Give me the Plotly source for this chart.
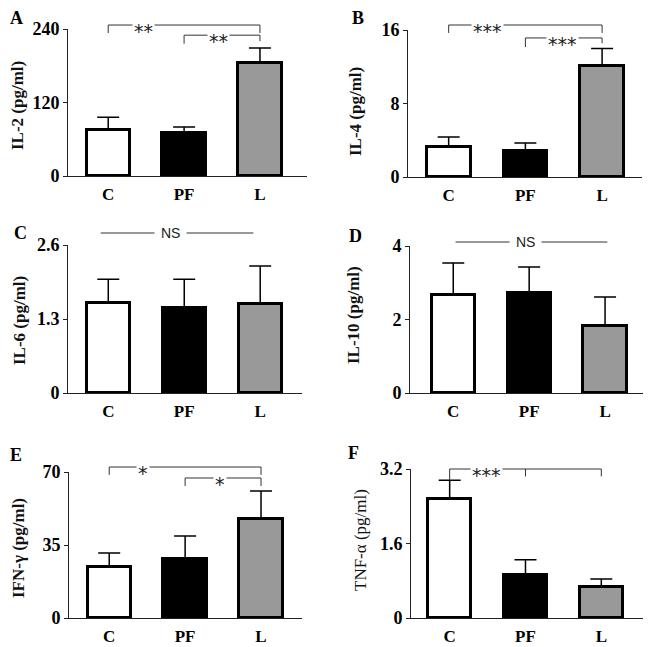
import plotly.graph_objects as go

# ---------------- data ----------------
groups = ["C", "PF", "L"]

il2_mean = [75, 70, 184]
il2_err = [21, 10, 25]
il4_mean = [3.27, 2.83, 12.1]
il4_err = [1.08, 0.87, 1.9]
il6_mean = [1.58, 1.49, 1.57]
il6_err = [0.42, 0.51, 0.66]
il10_mean = [2.67, 2.72, 1.82]
il10_err = [0.87, 0.71, 0.79]
ifng_mean = [24.5, 28.3, 47.5]
ifng_err = [6.7, 11.0, 13.4]
tnfa_mean = [2.56, 0.92, 0.67]
tnfa_err = [0.40, 0.33, 0.17]

tick_a = [0, 120, 240]
tick_b = [0, 8, 16]
tick_c = [0, 1.3, 2.6]
tick_d = [0, 2, 4]
tick_e = [0, 35, 70]
tick_f = [0, 1.6, 3.2]

titles = ["IL-2 (pg/ml)", "IL-4 (pg/ml)", "IL-6 (pg/ml)",
          "IL-10 (pg/ml)", "IFN-\u03b3 (pg/ml)", "TNF-\u03b1 (pg/ml)"]
letters = ["A", "B", "C", "D", "E", "F"]
sig_a = ["**", "**"]
sig_b = ["***", "***"]
sig_e = ["*", "*"]
sig_f = ["***"]
ns_label = "NS"

# ---------------- layout (pixel geometry) ----------------
PAGE_W, PAGE_H = 651, 647
OFF = 8  # default page body margin
W, H = PAGE_W - OFF, PAGE_H - OFF
bar_colors = ["#ffffff", "#000000", "#999999"]

panels = [
    dict(mean=il2_mean, err=il2_err, ticks=tick_a, xpx=(68, 307), ypx=(176, 29),
         xr=(-0.53, 2.62), tpos=(17, 106), lpos=(16, 18)),
    dict(mean=il4_mean, err=il4_err, ticks=tick_b, xpx=(408, 642), ypx=(177, 30),
         xr=(-0.53, 2.52), tpos=(355, 112), lpos=(358, 18)),
    dict(mean=il6_mean, err=il6_err, ticks=tick_c, xpx=(68, 302), ypx=(393, 245),
         xr=(-0.53, 2.55), tpos=(19, 321), lpos=(20, 233)),
    dict(mean=il10_mean, err=il10_err, ticks=tick_d, xpx=(410, 643), ypx=(393, 246),
         xr=(-0.57, 2.5), tpos=(353, 315), lpos=(355, 236)),
    dict(mean=ifng_mean, err=ifng_err, ticks=tick_e, xpx=(69, 302), ypx=(618, 472),
         xr=(-0.53, 2.54), tpos=(18, 548), lpos=(16, 455)),
    dict(mean=tnfa_mean, err=tnfa_err, ticks=tick_f, xpx=(411, 643), ypx=(618, 469),
         xr=(-0.51, 2.55), tpos=(360, 540), lpos=(353, 453)),
]

def px_x(v):
    return (v - OFF) / W

def px_y(v):
    return 1 - (v - OFF) / H

SERIF = "Liberation Serif"
fig = go.Figure()
shapes = []
annotations = []

def fmt(v):
    return str(int(v)) if float(v).is_integer() else str(v)

for i, p in enumerate(panels):
    n = "" if i == 0 else str(i + 1)
    xa, ya = "x" + n, "y" + n
    fig.add_trace(go.Bar(
        x=groups, y=p["mean"], xaxis=xa, yaxis=ya, width=0.57,
        marker=dict(color=bar_colors, line=dict(color="black", width=3)),
        error_y=dict(type="data", array=p["err"], arrayminus=[0, 0, 0], symmetric=False,
                     color="black", thickness=1.5, width=11),
        showlegend=False,
    ))
    dom_x = [px_x(p["xpx"][0]), px_x(p["xpx"][1])]
    dom_y = [px_y(p["ypx"][0]), px_y(p["ypx"][1])]
    fig.update_layout(**{
        "xaxis" + n: dict(domain=dom_x, anchor=ya, range=list(p["xr"]), showline=True,
                          linecolor="#222", linewidth=1, ticks="", showgrid=False,
                          zeroline=False, automargin=False, ticklabelstandoff=3,
                          tickfont=dict(family=SERIF, size=17, color="black", weight="bold")),
        "yaxis" + n: dict(domain=dom_y, anchor=xa, range=[0, p["ticks"][-1]], showline=True,
                          linecolor="#222", linewidth=1, ticks="outside", ticklen=4,
                          tickcolor="#222", showgrid=False, zeroline=False, automargin=False,
                          tickvals=p["ticks"], ticktext=[fmt(t) for t in p["ticks"]],
                          tickfont=dict(family=SERIF, size=18, color="black", weight="bold")),
    })
    # axis title
    annotations.append(dict(
        x=px_x(p["tpos"][0]), y=px_y(p["tpos"][1]), xref="paper", yref="paper",
        xanchor="center", yanchor="middle",
        text=titles[i], textangle=-90, showarrow=False,
        font=dict(family=SERIF, size=17, color="#111",
                  weight="normal" if i == 5 else "bold")))
    # panel letter
    annotations.append(dict(
        x=px_x(p["lpos"][0]), y=px_y(p["lpos"][1]), xref="paper", yref="paper",
        xanchor="center", yanchor="middle",
        text=letters[i], showarrow=False,
        font=dict(family=SERIF, size=18, color="black", weight="bold")))

def bracket(n, x0, x1, lvl, d0, d1, label, lx):
    xa = "x" + n
    yd = ("y" + n) + " domain"
    for (a, b, c, d) in [(x0, lvl, x1, lvl), (x0, lvl, x0, d0), (x1, lvl, x1, d1)]:
        shapes.append(dict(type="line", xref=xa, yref=yd, x0=a, y0=b, x1=c, y1=d,
                           line=dict(color="#333", width=1)))
    annotations.append(dict(x=lx, y=lvl, xref=xa, yref=yd, text=label, showarrow=False,
                            xanchor="center", yanchor="middle",
                            bgcolor="white", borderpad=1, yshift=-6,
                            font=dict(family="DejaVu Sans", size=19, color="#222")))

def ns_line(n, x0, x1, lvl, lx):
    xa = "x" + n
    yd = ("y" + n) + " domain"
    shapes.append(dict(type="line", xref=xa, yref=yd, x0=x0, y0=lvl, x1=x1, y1=lvl,
                       line=dict(color="#333", width=1)))
    annotations.append(dict(x=lx, y=lvl, xref=xa, yref=yd, text=ns_label, showarrow=False,
                            xanchor="center", yanchor="middle",
                            bgcolor="white", borderpad=6,
                            font=dict(family="Liberation Sans", size=14, color="#222")))

# A
bracket("", 0, 2, 1.027, 0.973, 0.973, sig_a[0], 0.47)
bracket("", 1, 2, 0.958, 0.90, 0.918, sig_a[1], 1.46)
# B
bracket("2", 0, 2, 1.034, 0.98, 0.98, sig_b[0], 0.5)
bracket("2", 1, 2, 0.946, 0.884, 0.91, sig_b[1], 1.48)
# C, D
ns_line("3", -0.1, 1.91, 1.081, 0.82)
ns_line("4", 0.03, 2.03, 1.027, 0.95)
# E
bracket("5", 0, 2, 1.034, 0.98, 0.98, sig_e[0], 0.45)
bracket("5", 1, 2, 0.959, 0.904, 0.904, sig_e[1], 1.46)
# F
bracket("6", 0, 2, 1.0, 0.925, 0.95, sig_f[0], 0.48)
shapes.append(dict(type="line", xref="x6", yref="y6 domain", x0=1, y0=1.0, x1=1, y1=0.95,
                   line=dict(color="#333", width=1)))

fig.update_layout(
    template="none",
    width=W, height=H, margin=dict(l=0, r=0, t=0, b=0, autoexpand=False),
    paper_bgcolor="white", plot_bgcolor="white",
    shapes=shapes, annotations=annotations, bargap=0,
)

fig.write_html("out.html")
